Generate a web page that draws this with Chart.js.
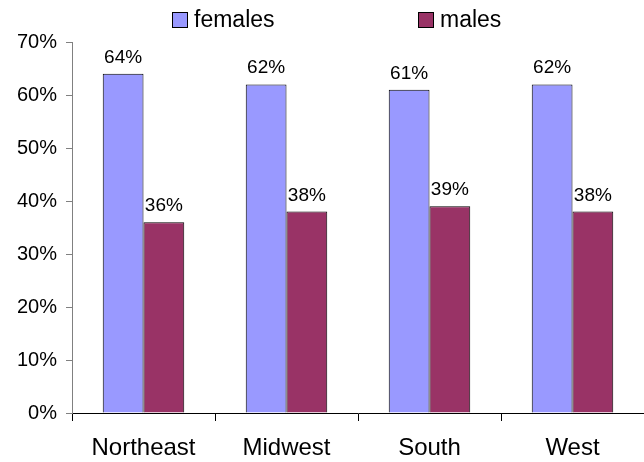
<!DOCTYPE html>
<html>
<head>
<meta charset="utf-8">
<script src="https://cdn.jsdelivr.net/npm/chart.js@4.4.1/dist/chart.umd.min.js"></script>
<style>
  html,body{margin:0;padding:0;background:#fff}
  #wrap{width:644px;height:462px}
</style>
</head>
<body>
<div id="wrap"><canvas id="c" width="644" height="462"></canvas></div>
<script>
const regions=['Northeast','Midwest','South','West'];
const females=[64,62,61,62];
const males=[36,38,39,38];
const yTicks=[0,10,20,30,40,50,60,70];

const FONT="'Liberation Sans', Arial, sans-serif";

// value labels above each bar
const barLabels={
  id:'barLabels',
  afterDatasetsDraw(chart){
    const ctx=chart.ctx;
    ctx.save();
    ctx.font='19px '+FONT;ctx.fillStyle='#000';ctx.textAlign='center';ctx.textBaseline='alphabetic';
    chart.data.datasets.forEach((ds,di)=>{
      chart.getDatasetMeta(di).data.forEach((bar,i)=>{
        ctx.fillText(ds.data[i]+'%',bar.x,bar.y-11);
      });
    });
    ctx.restore();
  }
};

// legend spread like the original (boxes far apart)
const spreadLegend={
  id:'spreadLegend',
  afterDraw(chart){
    const ctx=chart.ctx;const xs=[172,418];
    ctx.save();
    ctx.font='23px '+FONT;ctx.textBaseline='alphabetic';ctx.textAlign='left';
    chart.data.datasets.forEach((ds,i)=>{
      const x=xs[i];
      ctx.fillStyle=ds.backgroundColor;ctx.fillRect(x+0.5,12.5,15,15);
      ctx.strokeStyle='#000';ctx.lineWidth=1;ctx.strokeRect(x+0.5,12.5,15,15);
      ctx.fillStyle='#000';ctx.fillText(ds.label,x+22,27);
    });
    ctx.restore();
  }
};

new Chart(document.getElementById('c'),{
  type:'bar',
  data:{labels:regions,datasets:[
    {label:'females',data:females,backgroundColor:'#9999FF',borderColor:'#000',borderWidth:1},
    {label:'males',data:males,backgroundColor:'#993366',borderColor:'#000',borderWidth:1}
  ]},
  options:{
    responsive:false,animation:false,devicePixelRatio:1,
    layout:{padding:{top:42,right:-3,left:0,bottom:0}},
    datasets:{bar:{barPercentage:1,categoryPercentage:0.57}},
    plugins:{legend:{display:false},tooltip:{enabled:false}},
    scales:{
      x:{
        grid:{drawOnChartArea:false,offset:true,tickLength:8,color:'#000'},
        border:{color:'#000'},
        ticks:{color:'#000',font:{family:FONT,size:24},padding:13,maxRotation:0},
        afterFit(s){s.height=49;}
      },
      y:{
        min:0,max:70,
        afterBuildTicks(s){s.ticks=yTicks.map(v=>({value:v}));},
        grid:{drawOnChartArea:false,tickLength:6,color:'#808080'},
        border:{color:'#808080'},
        ticks:{color:'#000',font:{family:FONT,size:20},padding:9,callback:v=>v+'%'},
        afterFit(s){s.width=72;}
      }
    }
  },
  plugins:[barLabels,spreadLegend]
});
</script>
</body>
</html>
